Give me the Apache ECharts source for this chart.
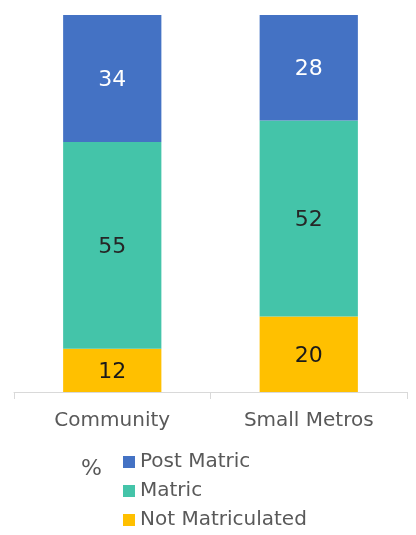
<!DOCTYPE html>
<html>
<head>
<meta charset="utf-8">
<script src="https://cdn.jsdelivr.net/npm/echarts@6/dist/echarts.min.js"></script>
<style>
  html, body { margin: 0; padding: 0; background: #fff; }
  #chart { width: 416px; height: 535px; }
</style>
</head>
<body>
<div id="chart"></div>
<script>
// categories and series values (labels rounded)
var categories = ['Community', 'Small Metros']
var notMatriculated = [11.5, 20]
var matric = [54.8, 52]
var postMatric = [33.7, 28]
var seriesNames = ['Post Matric', 'Matric', 'Not Matriculated']

var fontFamily = '"DejaVu Sans", sans-serif'

function seg (name, data, color, labelColor) {
  return {
    name: name,
    type: 'bar',
    stack: 'total',
    barWidth: '50%',
    data: data,
    itemStyle: { color: color },
    label: {
      show: true,
      position: 'inside',
      offset: [0, 2],
      color: labelColor,
      fontSize: 22,
      fontFamily: fontFamily,
      formatter: function (p) { return Math.round(p.value) }
    }
  }
}

var myChart = echarts.init(document.getElementById('chart'))
myChart.setOption({
  animation: false,
  title: {
    text: '%',
    left: 81,
    top: 458,
    padding: 0,
    textStyle: { color: '#595959', fontSize: 22, fontWeight: 'normal', fontFamily: fontFamily }
  },
  legend: {
    orient: 'vertical',
    left: 123,
    top: 452,
    padding: 0,
    itemWidth: 12,
    itemHeight: 12,
    itemGap: 9,
    icon: 'rect',
    data: seriesNames,
    textStyle: { color: '#595959', fontSize: 20, fontFamily: fontFamily, padding: [0, 0, 0, 0] }
  },
  grid: { left: 14, right: 9, top: 15, bottom: 143, containLabel: false },
  xAxis: {
    type: 'category',
    data: categories,
    axisLine: { lineStyle: { color: '#d9d9d9', width: 1 } },
    axisTick: { show: true, length: 7, lineStyle: { color: '#d9d9d9' } },
    axisLabel: { color: '#595959', fontSize: 20, fontFamily: fontFamily, margin: 19 }
  },
  yAxis: {
    type: 'value',
    min: 0,
    max: 100,
    show: false,
    splitLine: { show: false }
  },
  series: [
    seg('Not Matriculated', notMatriculated, '#FFC000', '#1a1a1a'),
    seg('Matric', matric, '#44C4A9', '#262626'),
    seg('Post Matric', postMatric, '#4472C4', '#ffffff')
  ]
})
</script>
</body>
</html>
